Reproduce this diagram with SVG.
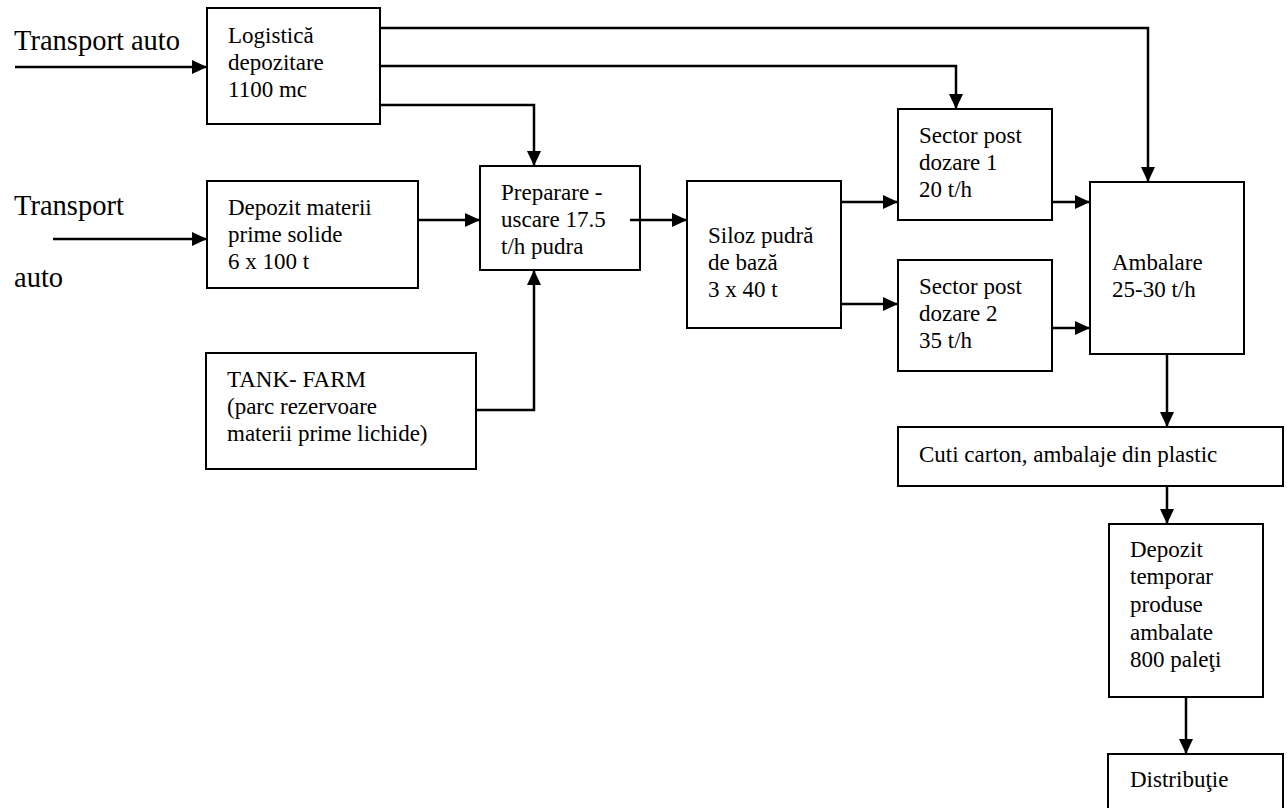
<svg xmlns="http://www.w3.org/2000/svg" width="1287" height="808" viewBox="0 0 1287 808">
<style>
.box{fill:#fff;stroke:#000;stroke-width:2}
.t{font-size:23px;fill:#000}
.big{font-size:28.5px;fill:#000}
.c{fill:none;stroke:#000;stroke-width:2.5;marker-end:url(#ah)}
</style>
<defs>
<marker id="ah" viewBox="0 0 15 14" refX="15" refY="7" markerWidth="15" markerHeight="14" markerUnits="userSpaceOnUse" orient="auto">
<path d="M0,0 L15,7 L0,14 z" fill="#000"/>
</marker>
</defs>
<rect width="1287" height="808" fill="#fff"/>
<g font-family="Liberation Serif, DejaVu Serif, serif">
<g id="labels">
<text class="big" x="14" y="50">Transport auto</text>
<text class="big" x="14" y="215">Transport</text>
<text class="big" x="14" y="287">auto</text>
</g>
<g id="connectors">
<path class="c" d="M15,67 H207"/>
<path class="c" d="M53,239 H207"/>
<path class="c" d="M380,28 H1148 V182"/>
<path class="c" d="M380,66 H956 V109"/>
<path class="c" d="M380,105 H534 V166"/>
<path class="c" d="M418,220 H480"/>
<path class="c" d="M476,410 H534 V270"/>
<path class="c" d="M630,220 H687"/>
<path class="c" d="M841,202 H898"/>
<path class="c" d="M841,304 H898"/>
<path class="c" d="M1052,202 H1090"/>
<path class="c" d="M1052,328 H1090"/>
<path class="c" d="M1167,354 V427"/>
<path class="c" d="M1167,486 V524"/>
<path class="c" d="M1186,697 V754"/>
</g>
<g id="logistica">
<rect class="box" x="207" y="8" width="173" height="116"/>
<text class="t" x="228" y="43">Logistică</text>
<text class="t" x="228" y="70">depozitare</text>
<text class="t" x="228" y="97">1100 mc</text>
</g>
<g id="depozit-materii">
<rect class="box" x="207" y="181" width="211" height="107"/>
<text class="t" x="228" y="215">Depozit materii</text>
<text class="t" x="228" y="242">prime solide</text>
<text class="t" x="228" y="269">6 x 100 t</text>
</g>
<g id="tank-farm">
<rect class="box" x="206" y="353" width="270" height="116"/>
<text class="t" x="227" y="387">TANK- FARM</text>
<text class="t" x="227" y="414">(parc rezervoare</text>
<text class="t" x="227" y="441">materii prime lichide)</text>
</g>
<g id="preparare">
<rect class="box" x="480" y="166" width="160" height="104"/>
<text class="t" x="501" y="200">Preparare -</text>
<text class="t" x="501" y="227">uscare 17.5</text>
<text class="t" x="501" y="254">t/h pudra</text>
<path d="M630,220 H640" stroke="#000" stroke-width="2.5"/>
</g>
<g id="siloz">
<rect class="box" x="687" y="181" width="154" height="147"/>
<text class="t" x="708" y="243">Siloz pudră</text>
<text class="t" x="708" y="270">de bază</text>
<text class="t" x="708" y="297">3 x 40 t</text>
</g>
<g id="sector1">
<rect class="box" x="898" y="109" width="154" height="111"/>
<text class="t" x="919" y="143">Sector post</text>
<text class="t" x="919" y="170">dozare 1</text>
<text class="t" x="919" y="197">20 t/h</text>
</g>
<g id="sector2">
<rect class="box" x="898" y="260" width="154" height="111"/>
<text class="t" x="919" y="294">Sector post</text>
<text class="t" x="919" y="321">dozare 2</text>
<text class="t" x="919" y="348">35 t/h</text>
</g>
<g id="ambalare">
<rect class="box" x="1090" y="182" width="154" height="172"/>
<text class="t" x="1112" y="270">Ambalare</text>
<text class="t" x="1112" y="297">25-30 t/h</text>
</g>
<g id="cuti">
<rect class="box" x="898" y="427" width="385" height="59"/>
<text class="t" x="919" y="462">Cuti carton, ambalaje din plastic</text>
</g>
<g id="depozit-temporar">
<rect class="box" x="1109" y="524" width="154" height="173"/>
<text class="t" x="1130" y="557">Depozit</text>
<text class="t" x="1130" y="584">temporar</text>
<text class="t" x="1130" y="612">produse</text>
<text class="t" x="1130" y="640">ambalate</text>
<text class="t" x="1130" y="667">800 paleţi</text>
</g>
<g id="distributie">
<rect class="box" x="1108" y="754" width="175" height="70"/>
<text class="t" x="1130" y="787">Distribuţie</text>
</g>
</g>
</svg>
